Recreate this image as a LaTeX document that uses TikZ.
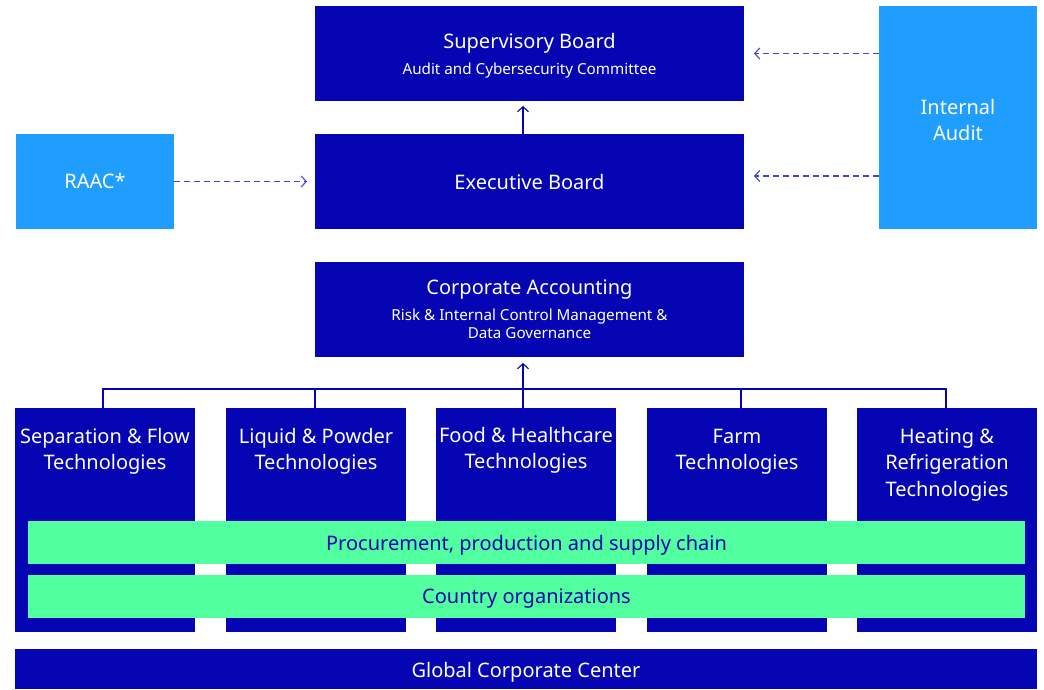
\documentclass[tikz,border=0pt]{standalone}
\usepackage{fontspec}
\setmainfont{Noto Sans}
\usetikzlibrary{arrows.meta}
\definecolor{navy}{HTML}{0505B4}
\definecolor{sky}{HTML}{1F9EFF}
\definecolor{mint}{HTML}{52FF9E}
\definecolor{dashblue}{HTML}{4444CC}
\tikzset{
  darkbox/.style={fill=navy, inner sep=0pt, outer sep=0pt},
  lightbox/.style={fill=sky, inner sep=0pt, outer sep=0pt},
  mintbar/.style={fill=mint, inner sep=0pt, outer sep=0pt, minimum width=997pt, minimum height=43pt},
  divbox/.style={darkbox, minimum width=180pt, minimum height=224pt},
  bigtext/.style={text=white, align=center, inner sep=0pt, anchor=base, font=\fontsize{20}{26.5}\selectfont},
  smalltext/.style={text=white, align=center, inner sep=0pt, anchor=base, font=\fontsize{15.2}{18.5}\selectfont},
  bartext/.style={text=navy, inner sep=0pt, anchor=base, font=\fontsize{20}{24}\selectfont},
  solidarrow/.style={draw=navy, line width=1.1pt, -{Straight Barb[length=5pt,width=11pt,line width=1.1pt]}},
  dashedarrow/.style={draw=dashblue, line width=1.2pt, dash pattern=on 6pt off 4pt, -{Straight Barb[length=5pt,width=11pt,line width=1.1pt]}},
  busline/.style={draw=navy, line width=1.1pt}
}
\begin{document}
\begin{tikzpicture}[x=1pt,y=-1pt]
\useasboundingbox (0,0) rectangle (1044,690);
% top boxes
\node[darkbox, minimum width=429pt, minimum height=95pt] (sb) at (529.5,53.5) {};
\node[bigtext] (sbt) at (529.5,48.5) {Supervisory Board};
\node[smalltext] (sbs) at (529.5,75) {Audit and Cybersecurity Committee};
\node[darkbox, minimum width=429pt, minimum height=95pt] (eb) at (529.5,181.5) {};
\node[bigtext] (ebt) at (529.5,189) {Executive Board};
\node[darkbox, minimum width=429pt, minimum height=95pt] (ca) at (529.5,309.5) {};
\node[bigtext] (cat) at (529.5,294.5) {Corporate Accounting};
\node[smalltext] (cas1) at (529.5,320) {Risk \& Internal Control Management \&};
\node[smalltext] (cas2) at (529.5,338.5) {Data Governance};
\node[lightbox, minimum width=158pt, minimum height=95pt] (raac) at (95,181.5) {};
\node[bigtext] (raact) at (95,188.5) {RAAC*};
\node[lightbox, minimum width=158pt, minimum height=223pt] (ia) at (958,117.5) {};
\node[bigtext] (iat1) at (958,115) {Internal};
\node[bigtext] (iat2) at (958,140.5) {Audit};
% divisions
\node[divbox] (sep) at (105,520) {};
\node[divbox] (liq) at (316,520) {};
\node[divbox] (food) at (526,519.5) {};
\node[divbox] (farm) at (737,520) {};
\node[divbox] (heat) at (947,520) {};
\node[bigtext] (sept1) at (105,443) {Separation \& Flow};
\node[bigtext] (sept2) at (105,469.5) {Technologies};
\node[bigtext] (liqt1) at (316,443) {Liquid \& Powder};
\node[bigtext] (liqt2) at (316,469.5) {Technologies};
\node[bigtext] (foodt1) at (526,442) {Food \& Healthcare};
\node[bigtext] (foodt2) at (526,468.5) {Technologies};
\node[bigtext] (farmt1) at (737,443) {Farm};
\node[bigtext] (farmt2) at (737,469.5) {Technologies};
\node[bigtext] (heatt1) at (947,443) {Heating \&};
\node[bigtext] (heatt2) at (947,469.5) {Refrigeration};
\node[bigtext] (heatt3) at (947,496) {Technologies};
% mint bars
\node[mintbar] (proc) at (526.5,542.5) {};
\node[bartext] (proct) at (526.5,550) {Procurement, production and supply chain};
\node[mintbar] (ctry) at (526.5,596.5) {};
\node[bartext] (ctryt) at (526.5,603.5) {Country organizations};
% global
\node[darkbox, minimum width=1022pt, minimum height=40pt] (gcc) at (526,669) {};
\node[bigtext] (gcct) at (526,677) {Global Corporate Center};
% bus
\coordinate (bus) at (523,389);
\coordinate (sepstub) at ([xshift=-2pt]sep.north);
\coordinate (liqstub) at ([xshift=-1pt]liq.north);
\coordinate (farmstub) at ([xshift=4pt]farm.north);
\coordinate (heatstub) at ([xshift=-1pt]heat.north);
\draw[busline] (sepstub) -- (sepstub |- bus) -- (heatstub |- bus) -- (heatstub);
\draw[busline] (liqstub) -- (liqstub |- bus);
\draw[busline] (farmstub) -- (farmstub |- bus);
\draw[solidarrow, shorten >=6pt] (bus |- food.north) -- (bus |- ca.south);
\draw[solidarrow, shorten >=5pt] (bus |- eb.north) -- (bus |- sb.south);
% dashed arrows
\draw[dashedarrow, shorten >=10pt] (ia.west |- sb) -- (sb.east);
\draw[dashedarrow, shorten >=10pt] ([yshift=5.5pt]ia.west |- eb) -- ([yshift=5.5pt]eb.east);
\draw[dashedarrow, shorten >=8pt] (raac.east) -- (eb.west);
\end{tikzpicture}
\end{document}
